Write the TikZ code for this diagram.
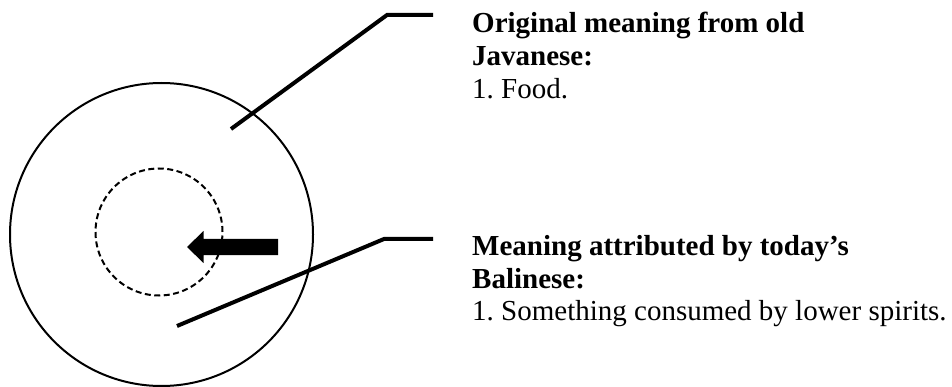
\documentclass[tikz,border=0pt]{standalone}
\usepackage{fontspec}
\setmainfont{Liberation Serif}
\frenchspacing
\begin{document}
\begin{tikzpicture}[x=1pt,y=-1pt,
  leader/.style={line width=4pt},
  meaning/.style={anchor=north west,align=left,inner sep=0pt,font=\fontsize{29}{32.8}\selectfont}]
  \useasboundingbox (0,0) rectangle (952,387);
  % Circles
  \node[draw,circle,line width=2pt,minimum size=303pt,inner sep=0pt] (outer) at (161.5,234.5) {};
  \node[draw,circle,line width=2pt,dash pattern=on 6pt off 3.5pt,minimum size=127pt,inner sep=0pt] (inner) at (159,232) {};
  % Fat arrow into the inner circle
  \fill (278,239) -- (203.5,239) -- (203.5,231) -- (187,247) -- (203.5,263) -- (203.5,255) -- (278,255) -- cycle;
  % Labels
  \node[meaning] (orig) at (472,12) {\textbf{Original meaning from old}\\\textbf{Javanese:}\\1. Food.};
  \node[meaning] (bali) at (472,235) {\textbf{Meaning attributed by today’s}\\\textbf{Balinese:}\\1. Something consumed by lower spirits.};
  % Leader lines
  \coordinate (origtip) at (231,129);
  \coordinate (origknee) at (387,15);
  \coordinate (origend) at (433,15);
  \draw[leader] (origtip) -- (origknee) -- (origend);
  \coordinate (balitip) at (177,326);
  \coordinate (baliknee) at (384,239);
  \coordinate (baliend) at (433,239);
  \draw[leader] (balitip) -- (baliknee) -- (baliend);
\end{tikzpicture}
\end{document}
